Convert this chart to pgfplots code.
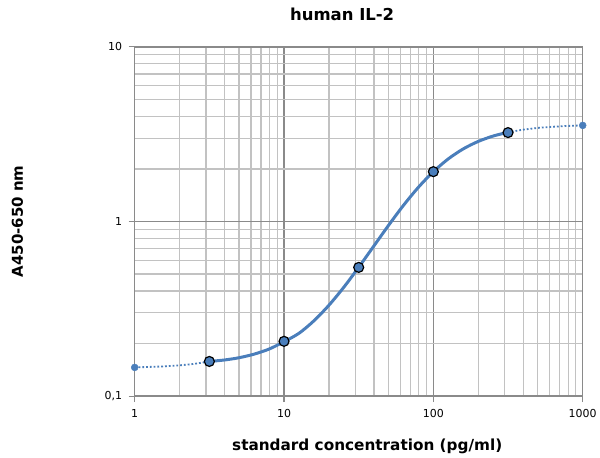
\documentclass[border=0pt]{standalone}
\usepackage{fontspec}
\setmainfont{DejaVu Sans}
\usepackage{pgfplots}
\pgfplotsset{compat=1.18}
\definecolor{curveblue}{HTML}{4A7EBB}
\definecolor{majgrid}{HTML}{8A8A8A}
\definecolor{mingrid}{HTML}{C2C2C2}
\newcommand{\tl}[1]{\mbox{\fontsize{11}{13}\selectfont #1}}
\begin{document}
\begin{tikzpicture}[x=1pt,y=1pt]
\begin{axis}[
    scale only axis,
    width=449pt, height=350pt,
    xmode=log, ymode=log,
    xmin=1, xmax=1000, ymin=0.1, ymax=10,
    xtick={1,10,100,1000}, xticklabels={\tl{1},\tl{10},\tl{100},\tl{1000}},
    ytick={0.1,1,10}, yticklabels={\tl{0,1},\tl{1},\tl{10}},
    grid=both,
    major grid style={majgrid, line width=1.5pt},
    minor grid style={mingrid, line width=1.2pt},
    axis line style={majgrid, line width=1.5pt},
    tick style={majgrid, line width=1.2pt},
    major tick length=6pt, minor tick length=0pt,
    tick align=outside,
    xtick pos=bottom, ytick pos=left,
    tick label style={text=black},
    xticklabel style={yshift=-4pt},
    yticklabel style={xshift=-3pt},
    title={\textbf{human IL-2}},
    title style={font=\fontsize{16.5}{18}\selectfont, at={(axis description cs:0.463,1)}, anchor=base, yshift=20pt},
    xlabel={\textbf{standard concentration (pg/ml)}},
    xlabel style={font=\fontsize{15.3}{17}\selectfont, at={(axis description cs:0.519,0)}, anchor=base, yshift=-55pt},
    ylabel={\textbf{A450-650 nm}},
    ylabel style={font=\fontsize{15}{17}\selectfont, at={(axis description cs:-0.2494,0.5)}, anchor=base},
    clip=false,
]
% dotted extrapolation, low end
\addplot[curveblue, line width=1.8pt, dotted, mark=none] coordinates {
 (1,0.146) (1.259,0.147) (1.585,0.148) (1.995,0.150) (2.512,0.153) (3.162,0.158)
};
% dotted extrapolation, high end
\addplot[curveblue, line width=1.8pt, dotted, mark=none] coordinates {
 (316.2,3.243) (398.1,3.357) (501.2,3.436) (631.0,3.490) (794.3,3.527) (1000,3.552)
};
% fitted curve
\addplot[curveblue, line width=3pt, smooth, mark=none] coordinates {
 (3.162,0.158) (3.981,0.161) (5.012,0.166) (6.310,0.174) (7.943,0.186)
 (10,0.205) (12.59,0.229) (15.85,0.270) (19.95,0.331) (25.12,0.420)
 (31.62,0.547) (39.81,0.721) (50.12,0.951) (63.10,1.238) (79.43,1.571)
 (100,1.930) (125.9,2.284) (158.5,2.605) (199.5,2.874) (251.2,3.086) (316.2,3.243)
};
% end points of the extrapolation
\addplot[only marks, mark=*, mark size=3.5pt, mark options={fill=curveblue, draw=curveblue}] coordinates {
 (1,0.146) (1000,3.552)
};
% standards
\addplot[only marks, mark=*, mark size=5pt, mark options={fill=curveblue, draw=black, line width=1.2pt}] coordinates {
 (3.162,0.158) (10,0.206) (31.62,0.546) (100,1.93) (316.2,3.23)
};
\end{axis}
\useasboundingbox (-135,-60) rectangle (465,397);
\end{tikzpicture}
\end{document}
